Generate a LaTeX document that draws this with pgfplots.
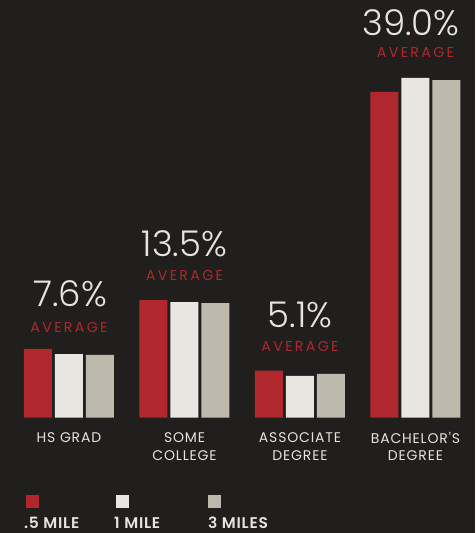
\documentclass[border=0pt]{standalone}
\usepackage{pgfplots}
\pgfplotsset{compat=1.18}
\usepackage{fontspec}
\setmainfont{Poppins}
\newfontfamily\lightfont{Poppins}[UprightFont=* Light]
\newfontfamily\spacedfont{Poppins}[LetterSpace=16]
\newfontfamily\catfont{Poppins}[LetterSpace=6]
\newfontfamily\legfont{Poppins}[UprightFont=* SemiBold, LetterSpace=5]
\definecolor{bgcol}{HTML}{201F1E}
\definecolor{cred}{HTML}{B0272D}
\definecolor{cwhite}{HTML}{E7E6E1}
\definecolor{cbeige}{HTML}{BDBAAD}
\definecolor{txt}{HTML}{E6E4DF}
\begin{document}
\begin{tikzpicture}
\fill[bgcol] (0,0) rectangle (475pt,533pt);
\begin{axis}[
  at={(0,0)}, anchor=south west,
  width=475pt, height=533pt, scale only axis,
  axis lines=none, ticks=none,
  xmin=-0.5974, xmax=3.5152,
  ymin=-13.43, ymax=48.55,
  ybar=3pt, bar width=28pt,
  clip=false,
]
\addplot[fill=cred, draw=none] coordinates {(0,7.97) (1,13.66) (2,5.44) (3,37.88)};
\addplot[fill=cwhite, draw=none] coordinates {(0,7.38) (1,13.43) (2,4.83) (3,39.48)};
\addplot[fill=cbeige, draw=none] coordinates {(0,7.27) (1,13.31) (2,5.06) (3,39.24)};

% average labels
\tikzset{num/.style={txt, font=\lightfont\fontsize{35.5}{36}\selectfont},
         avg/.style={cred, font=\spacedfont\fontsize{14.3}{15}\selectfont}}
\node[num] at (axis cs:0.01,14.36) {7.6\%};
\node[avg] at (axis cs:0,10.47) {AVERAGE};
\node[num] at (axis cs:1,20.17) {13.5\%};
\node[avg] at (axis cs:1,16.57) {AVERAGE};
\node[num] at (axis cs:2,11.92) {5.1\%};
\node[avg] at (axis cs:2,8.23) {AVERAGE};
\node[num] at (axis cs:2.96,45.87) {39.0\%};
\node[avg] at (axis cs:3,42.42) {AVERAGE};

% category labels
\tikzset{cat/.style={txt, font=\catfont\fontsize{14}{15}\selectfont, inner sep=0pt}}
\node[cat] at (axis cs:0,-2.38) {HS GRAD};
\node[cat] at (axis cs:1,-2.38) {SOME};
\node[cat] at (axis cs:1,-4.42) {COLLEGE};
\node[cat] at (axis cs:2,-2.38) {ASSOCIATE};
\node[cat] at (axis cs:2,-4.42) {DEGREE};
\node[cat] at (axis cs:3,-2.38) {BACHELOR'S};
\node[cat] at (axis cs:3,-4.42) {DEGREE};

% legend
\fill[cred] (axis cs:-0.3723,-9.00) rectangle (axis cs:-0.2597,-10.51);
\fill[cwhite] (axis cs:0.4069,-9.00) rectangle (axis cs:0.5195,-10.51);
\fill[cbeige] (axis cs:1.2035,-9.00) rectangle (axis cs:1.3160,-10.51);
\tikzset{leg/.style={txt, font=\legfont\fontsize{15.5}{16}\selectfont, inner sep=0pt, anchor=west}}
\node[leg] at (axis cs:-0.3900,-12.27) {.5 MILE};
\node[leg] at (axis cs:0.3900,-12.27) {1 MILE};
\node[leg] at (axis cs:1.2035,-12.27) {3 MILES};
\end{axis}
\end{tikzpicture}
\end{document}
